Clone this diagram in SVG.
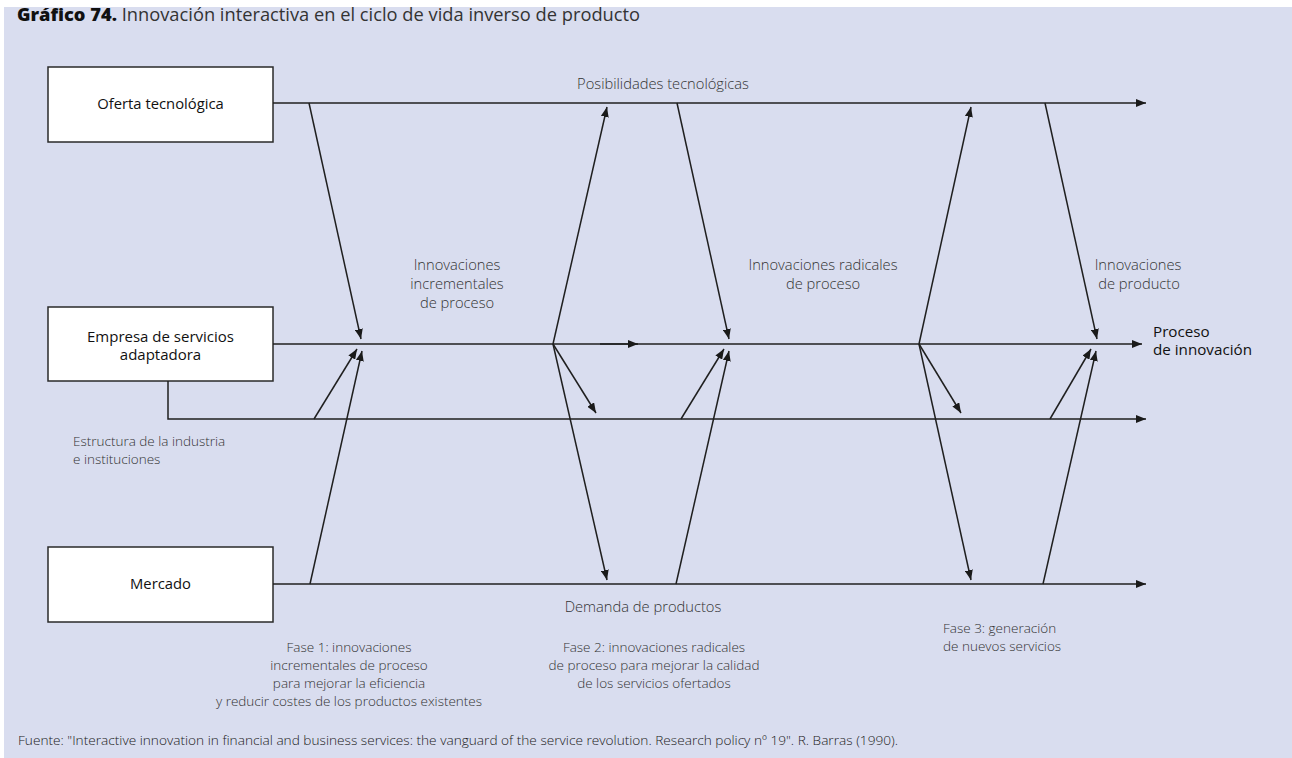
<svg xmlns="http://www.w3.org/2000/svg" width="1292" height="758" viewBox="0 0 1292 758">
<defs>
<marker id="ah" markerUnits="userSpaceOnUse" markerWidth="10" markerHeight="8" refX="10" refY="4" orient="auto">
<path d="M0,0 L10,4 L0,8 z" fill="#1a1a1a"/>
</marker>
<style>
.box{fill:#fff;stroke:#2a2a2a;stroke-width:1.5}
.ln{fill:none;stroke:#1f1f1f;stroke-width:1.5}
.ar{fill:none;stroke:#1f1f1f;stroke-width:1.5;marker-end:url(#ah)}
.bt{font-family:"Open Sans","Noto Sans",sans-serif;font-size:14.8px;fill:#111;text-anchor:middle}
.bm{font-weight:500;font-size:15px}
.lb{font-family:"Open Sans","Noto Sans",sans-serif;font-size:14.7px;fill:#333;font-weight:300}
.sm{font-size:13.5px}
.c{text-anchor:middle}
.ft{font-family:"Open Sans","Noto Sans",sans-serif;font-size:13px;fill:#222;font-weight:300}
</style>
</defs>
<rect x="0" y="0" width="1292" height="758" fill="#fff"/>
<rect x="4" y="7" width="1288" height="751" fill="#d9ddef"/>
<text x="17" y="21" font-family="'Open Sans','Noto Sans',sans-serif" font-size="18.3" fill="#111"><tspan font-weight="800">Gráfico 74.</tspan><tspan fill="#333" font-weight="400"> Innovación interactiva en el ciclo de vida inverso de producto</tspan></text>

<g id="oferta">
<rect class="box" x="48" y="67" width="225" height="75"/>
<text class="bt" x="160.5" y="109">Oferta tecnológica</text>
</g>
<g id="empresa">
<rect class="box" x="48" y="307" width="225" height="74"/>
<text class="bt bm" x="160.5" y="342">Empresa de servicios</text>
<text class="bt bm" x="160.5" y="360">adaptadora</text>
</g>
<g id="mercado">
<rect class="box" x="48" y="547" width="225" height="75"/>
<text class="bt" x="160.5" y="589">Mercado</text>
</g>

<g id="connectors">
<path class="ar" d="M273,103 H1146"/>
<path class="ar" d="M273,344 H1142"/>
<path class="ar" d="M600,344 H638"/>
<path class="ar" d="M168,381 V419 H1146"/>
<path class="ar" d="M273,584 H1146"/>

<path class="ar" d="M309,103 L361,339"/>
<path class="ar" d="M314,419 L357,349"/>
<path class="ar" d="M310,584 L362,351"/>

<path class="ar" d="M553,344 L607,107"/>
<path class="ar" d="M553,344 L596,413"/>
<path class="ar" d="M553,344 L607,580"/>

<path class="ar" d="M677,103 L729,339"/>
<path class="ar" d="M681,419 L724,349"/>
<path class="ar" d="M676,584 L729,351"/>

<path class="ar" d="M919,344 L971,107"/>
<path class="ar" d="M919,344 L961,413"/>
<path class="ar" d="M919,344 L971,580"/>

<path class="ar" d="M1045,103 L1097,339"/>
<path class="ar" d="M1050,419 L1091,349"/>
<path class="ar" d="M1043,584 L1096,351"/>
</g>

<g id="labels">
<text class="lb c" x="663" y="89">Posibilidades tecnológicas</text>
<text class="lb c" x="457" y="270">Innovaciones</text>
<text class="lb c" x="457" y="289">incrementales</text>
<text class="lb c" x="457" y="308">de proceso</text>
<text class="lb c" x="823" y="270">Innovaciones radicales</text>
<text class="lb c" x="823" y="289">de proceso</text>
<text class="lb c" x="1138" y="270">Innovaciones</text>
<text class="lb c" x="1139" y="289">de producto</text>
<text x="1153" y="337" font-family="'Open Sans','Noto Sans',sans-serif" font-size="15.2" font-weight="500" fill="#111">Proceso</text>
<text x="1153" y="355" font-family="'Open Sans','Noto Sans',sans-serif" font-size="15.2" font-weight="500" fill="#111">de innovación</text>
<text class="lb sm" x="73" y="446">Estructura de la industria</text>
<text class="lb sm" x="73" y="464">e instituciones</text>
<text class="lb c" x="643" y="612">Demanda de productos</text>
<text class="lb sm c" x="349" y="652">Fase 1: innovaciones</text>
<text class="lb sm c" x="349" y="670">incrementales de proceso</text>
<text class="lb sm c" x="349" y="688">para mejorar la eficiencia</text>
<text class="lb sm c" x="349" y="706">y reducir costes de los productos existentes</text>
<text class="lb sm c" x="654" y="652">Fase 2: innovaciones radicales</text>
<text class="lb sm c" x="654" y="670">de proceso para mejorar la calidad</text>
<text class="lb sm c" x="654" y="688">de los servicios ofertados</text>
<text class="lb sm" x="943" y="633">Fase 3: generación</text>
<text class="lb sm" x="943" y="651">de nuevos servicios</text>
<text class="ft" x="18" y="745" textLength="880" lengthAdjust="spacingAndGlyphs">Fuente: "Interactive innovation in financial and business services: the vanguard of the service revolution. Research policy nº 19". R. Barras (1990).</text>
</g>
</svg>
